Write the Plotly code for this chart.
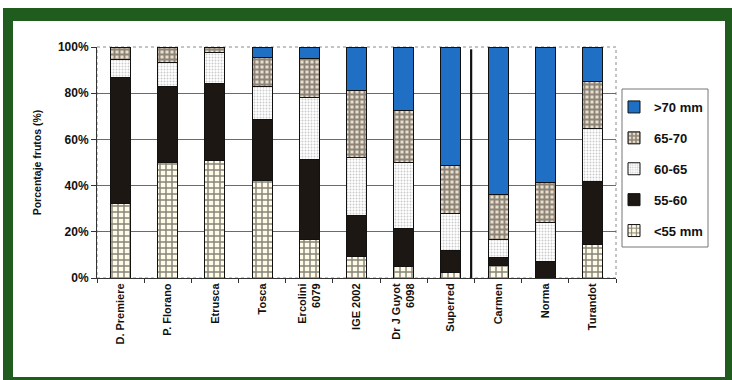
import plotly.graph_objects as go

# Cultivars (x categories)
cultivares = ["D. Premiere", "P. Florano", "Etrusca", "Tosca", "Ercolini<br>6079",
              "IGE 2002", "Dr J Guyot<br>6098", "Superred", "Carmen", "Norma", "Turandot"]

# Share of fruits per calibre class (%)
menor_55 = [32.4, 49.8, 50.8, 42.1, 16.5, 9.3, 4.9, 2.3, 5.2, 0.0, 14.6]
c55_60 = [54.2, 32.9, 33.2, 26.7, 35.0, 17.6, 16.4, 9.6, 3.6, 7.1, 27.2]
c60_65 = [8.0, 10.7, 13.5, 13.9, 26.5, 25.3, 28.7, 16.2, 8.0, 16.9, 23.1]
c65_70 = [5.4, 6.6, 2.5, 12.6, 16.9, 28.9, 22.4, 20.5, 19.2, 17.5, 20.3]
mayor_70 = [0.0, 0.0, 0.0, 4.7, 5.1, 18.9, 27.6, 51.4, 64.0, 58.5, 14.8]

series = ["<55 mm", "55-60", "60-65", "65-70", ">70 mm"]
valores = [menor_55, c55_60, c60_65, c65_70, mayor_70]

FONT = "Arial, Liberation Sans, sans-serif"
W, H = 732, 380
ML, MR, MT, MB = 97, 116, 47, 102
PW, PH = W - ML - MR, H - MT - MB


def px(x):
    return (x - ML) / PW


def py(y):
    return (H - MB - y) / PH


estilos = {
    "<55 mm": dict(color="#fffdf2", pattern=dict(shape="+", fgcolor="#0d0d0d", bgcolor="#fffbe6",
                                                 size=6, solidity=0.42)),
    "55-60": dict(color="#1c1712"),
    "60-65": dict(color="#ffffff", pattern=dict(shape=".", fgcolor="#9a9a9a", bgcolor="#ffffff",
                                                size=3, solidity=0.35)),
    "65-70": dict(color="#ddd5c5", pattern=dict(shape="+", fgcolor="#33281d", bgcolor="#e6dece",
                                                size=5, solidity=0.62)),
    ">70 mm": dict(color="#1f6fc4"),
}

fig = go.Figure()
for i, (nombre, vals) in enumerate(zip(series, valores)):
    fig.add_trace(go.Bar(
        x=cultivares, y=vals, name=nombre, legendgroup=nombre,
        legendrank=len(series) - i,
        marker=dict(line=dict(color="#111111", width=1), **estilos[nombre]),
    ))

shapes = [
    # green frame and white card
    dict(type="rect", xref="paper", yref="paper", x0=px(3), x1=px(732), y0=py(380), y1=py(8),
         fillcolor="#1f5c1e", line=dict(width=0), layer="below"),
    dict(type="rect", xref="paper", yref="paper", x0=px(13), x1=px(725), y0=py(377), y1=py(21),
         fillcolor="#ffffff", line=dict(width=0), layer="below"),
    # plot area border
    dict(type="rect", xref="paper", yref="paper", x0=0, x1=1, y0=0, y1=1,
         line=dict(color="#8a8a8a", width=1, dash="dot"), layer="below"),
    # separator between cultivar groups
    dict(type="line", xref="x", yref="y", x0=7.43, x1=7.43, y0=0, y1=99,
         line=dict(color="#111111", width=2.2)),
    # legend box
    dict(type="rect", xref="paper", yref="paper", x0=px(622), x1=px(708), y0=py(247), y1=py(89),
         line=dict(color="#777777", width=1), fillcolor="rgba(0,0,0,0)"),
]

fig.update_layout(
    width=W, height=H,
    margin=dict(l=ML, r=MR, t=MT, b=MB, pad=0),
    barmode="stack", bargap=0.576,
    paper_bgcolor="#ffffff", plot_bgcolor="rgba(0,0,0,0)",
    font=dict(family=FONT, color="#111111", size=11),
    shapes=shapes,
    showlegend=True,
    legend=dict(
        x=px(614), y=py(92), xanchor="left", yanchor="top",
        traceorder="grouped", tracegroupgap=11,
        font=dict(family=FONT, size=13, color="#111111", weight="bold"),
        bgcolor="rgba(0,0,0,0)", borderwidth=0,
    ),
    xaxis=dict(
        type="category", tickson="boundaries", ticks="outside", ticklen=4,
        tickcolor="#333333", showline=True, linecolor="#333333", linewidth=1,
        showgrid=False, tickangle=-90,
        tickfont=dict(family=FONT, size=11, color="#111111", weight="bold"),
        range=[-0.5, 10.5],
    ),
    yaxis=dict(
        range=[0, 100], dtick=20, ticksuffix="%", ticks="outside", ticklen=5,
        tickcolor="#333333", showline=True, linecolor="#333333", linewidth=1,
        showgrid=True, gridcolor="#6a6a6a", gridwidth=1, zeroline=False,
        tickfont=dict(family=FONT, size=12, color="#111111", weight="bold"),
        title=dict(text="Porcentaje frutos (%)", standoff=14,
                   font=dict(family=FONT, size=10.5, color="#111111", weight="bold")),
    ),
)

fig.write_html("out.html")
